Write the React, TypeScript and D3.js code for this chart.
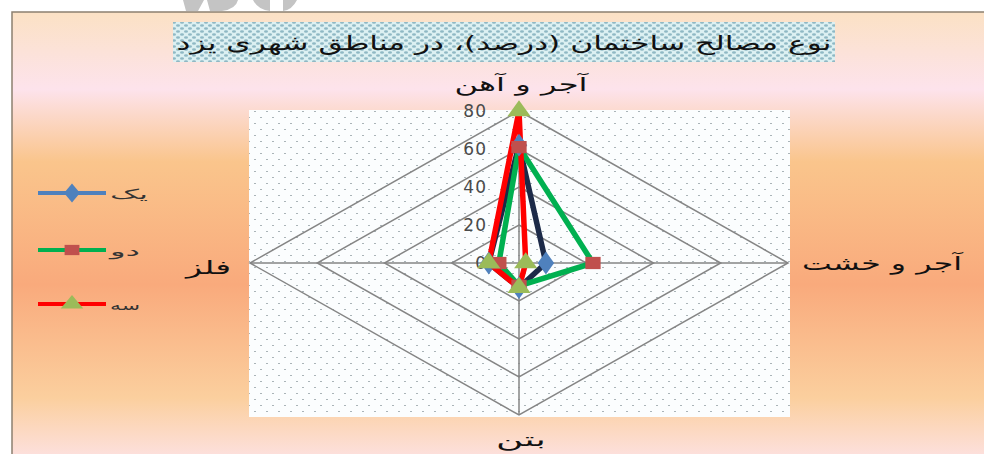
import React, { useEffect, useRef } from "react";
import * as d3 from "d3";

// axes, clockwise from the top
const categories = ["آجر و آهن", "آجر و خشت", "بتن", "فلز"];
const seriesNames = ["یک", "دو", "سه"];
const valuesOne = [62, 8, 13, 9];
const valuesTwo = [61, 22, 12, 6];
const valuesThree = [80, 2, 13, 9];
const ticks = [0, 20, 40, 60, 80];
const title = "نوع مصالح ساختمان (درصد)، در مناطق شهری یزد";

export default function App() {
  const ref = useRef<SVGSVGElement>(null);

  useEffect(() => {
    const svg = d3.select(ref.current);
    svg.selectAll("*").remove();

    const width = 984;
    const height = 454;
    const cx = 519;
    const cy = 263;
    const rx = 269;
    const ry = 152;
    const font = "'DejaVu Sans', sans-serif";

    const defs = svg.append("defs");

    const bg = defs.append("linearGradient")
      .attr("id", "bg").attr("x1", 0).attr("y1", 0).attr("x2", 0).attr("y2", 1);
    [
      [0, "#fbe1c4"],
      [0.17, "#fde3ec"],
      [0.33, "#fac58c"],
      [0.6, "#f9aa7c"],
      [0.85, "#fbcf9e"],
      [1, "#fde3e8"],
    ].forEach(([o, c]) => bg.append("stop").attr("offset", o).attr("stop-color", c));

    const dots = defs.append("pattern")
      .attr("id", "dots").attr("patternUnits", "userSpaceOnUse")
      .attr("width", 12).attr("height", 12);
    dots.append("rect").attr("width", 12).attr("height", 12).attr("fill", "#fbfdfe");
    dots.append("rect").attr("x", 2).attr("y", 3).attr("width", 2).attr("height", 1).attr("fill", "#aab4b8");
    dots.append("rect").attr("x", 8).attr("y", 9).attr("width", 2).attr("height", 1).attr("fill", "#aab4b8");

    const titleDots = defs.append("pattern")
      .attr("id", "tdots").attr("patternUnits", "userSpaceOnUse")
      .attr("width", 8).attr("height", 6);
    titleDots.append("rect").attr("width", 8).attr("height", 6).attr("fill", "#dcf0f2");
    titleDots.append("ellipse").attr("cx", 2).attr("cy", 1.5).attr("rx", 2).attr("ry", 1.2).attr("fill", "#8fb8c4");
    titleDots.append("ellipse").attr("cx", 6).attr("cy", 4.5).attr("rx", 2).attr("ry", 1.2).attr("fill", "#8fb8c4");

    svg.attr("width", width).attr("height", height);

    // watermark remains above the frame
    const wm = svg.append("g").attr("fill", "#c4c4c4");
    wm.append("path").attr("d", "M183,0 L204,0 L198,11 L186,11 Z");
    wm.append("path").attr("d", "M207,0 L238,0 Q236,9 222,11 L210,11 Z");
    wm.append("path").attr("d", "M253,0 L297,0 Q292,10 283,11 L283,0 L270,0 L270,11 Q258,10 253,0 Z");

    // chart frame
    svg.append("rect").attr("x", 12).attr("y", 12).attr("width", width).attr("height", height)
      .attr("fill", "url(#bg)").attr("stroke", "#8c8070").attr("stroke-width", 1.5);

    // title
    svg.append("rect").attr("x", 173).attr("y", 22).attr("width", 662).attr("height", 40)
      .attr("fill", "url(#tdots)");
    svg.append("text").attr("x", 504).attr("y", 50).attr("text-anchor", "middle")
      .attr("font-family", font).attr("font-size", 20).attr("fill", "#111")
      .attr("textLength", 655).attr("lengthAdjust", "spacingAndGlyphs")
      .text(title);

    // plot area
    svg.append("rect").attr("x", 249).attr("y", 110).attr("width", 541).attr("height", 307)
      .attr("fill", "url(#dots)");

    const r = d3.scaleLinear().domain([0, 80]).range([0, 1]);
    const angle = (i: number) => (i * 2 * Math.PI) / categories.length;
    const px = (i: number, v: number) => cx + Math.sin(angle(i)) * r(v) * rx;
    const py = (i: number, v: number) => cy - Math.cos(angle(i)) * r(v) * ry;

    const grid = svg.append("g").attr("fill", "none").attr("stroke", "#858585").attr("stroke-width", 1.5);
    ticks.slice(1).forEach(t => {
      const l = d3.line<string>()
        .x((_, i) => px(i, t))
        .y((_, i) => py(i, t))
        .curve(d3.curveLinearClosed);
      grid.append("path").attr("d", l(categories));
    });
    categories.forEach((_, i) => {
      grid.append("line")
        .attr("x1", cx).attr("y1", cy)
        .attr("x2", px(i, 80)).attr("y2", py(i, 80));
    });

    // tick labels
    svg.append("g").selectAll("text").data(ticks).join("text")
      .attr("x", cx - 32).attr("y", d => py(0, d) + 6)
      .attr("text-anchor", "end")
      .attr("font-family", font).attr("font-size", 17).attr("fill", "#4a4a4a")
      .attr("letter-spacing", 1)
      .text(d => d);

    // category labels
    const labelPos = [
      { x: 521, y: 91, anchor: "middle", w: 133 },
      { x: 962, y: 270, anchor: "end", w: 160 },
      { x: 521, y: 446, anchor: "middle", w: 50 },
      { x: 231, y: 274, anchor: "end", w: 45 },
    ];
    svg.append("g").selectAll("text").data(categories).join("text")
      .attr("x", (_, i) => labelPos[i].x)
      .attr("y", (_, i) => labelPos[i].y)
      .attr("text-anchor", (_, i) => labelPos[i].anchor)
      .attr("textLength", (_, i) => labelPos[i].w)
      .attr("lengthAdjust", "spacingAndGlyphs")
      .attr("font-family", font).attr("font-size", 19).attr("fill", "#111")
      .text(d => d);

    const series = [
      { name: seriesNames[0], values: valuesOne, line: "#1c2a48", legendLine: "#4f81bd", marker: "#4f81bd", shape: d3.symbolDiamond },
      { name: seriesNames[1], values: valuesTwo, line: "#00b050", legendLine: "#00b050", marker: "#c0504d", shape: d3.symbolSquare },
      { name: seriesNames[2], values: valuesThree, line: "#ff0000", legendLine: "#ff0000", marker: "#9bbb59", shape: d3.symbolTriangle },
    ];

    const lines = svg.append("g");
    const marks = svg.append("g");
    series.forEach(s => {
      const l = d3.line<number>()
        .x((d, i) => px(i, d))
        .y((d, i) => py(i, d))
        .curve(d3.curveLinearClosed);
      lines.append("path").attr("d", l(s.values))
        .attr("fill", "none").attr("stroke", s.line).attr("stroke-width", 5.5)
        .attr("stroke-linejoin", "round");
      marks.selectAll(null).data(s.values).join("path")
        .attr("transform", (d, i) => `translate(${px(i, d)},${py(i, d)}) scale(1.25,1)`)
        .attr("d", d3.symbol().type(s.shape).size(150)())
        .attr("fill", s.marker);
    });

    // legend
    const legendY = [193, 250, 304];
    const legend = svg.append("g");
    series.forEach((s, i) => {
      const g = legend.append("g").attr("transform", `translate(0,${legendY[i]})`);
      g.append("line").attr("x1", 38).attr("x2", 106).attr("y1", 0).attr("y2", 0)
        .attr("stroke", s.legendLine).attr("stroke-width", 4);
      g.append("path").attr("transform", "translate(72,0) scale(1.3,0.9)")
        .attr("d", d3.symbol().type(s.shape).size(130)())
        .attr("fill", s.marker);
      g.append("text").attr("x", 110).attr("y", 6)
        .attr("text-anchor", "start")
        .attr("font-family", font).attr("font-size", 14).attr("fill", "#333")
        .attr("textLength", i === 0 ? 38 : 30).attr("lengthAdjust", "spacingAndGlyphs")
        .text(s.name);
    });
  }, []);

  return (
    <svg ref={ref} style={{ position: "absolute", left: 0, top: 0, display: "block" }}></svg>
  );
}
